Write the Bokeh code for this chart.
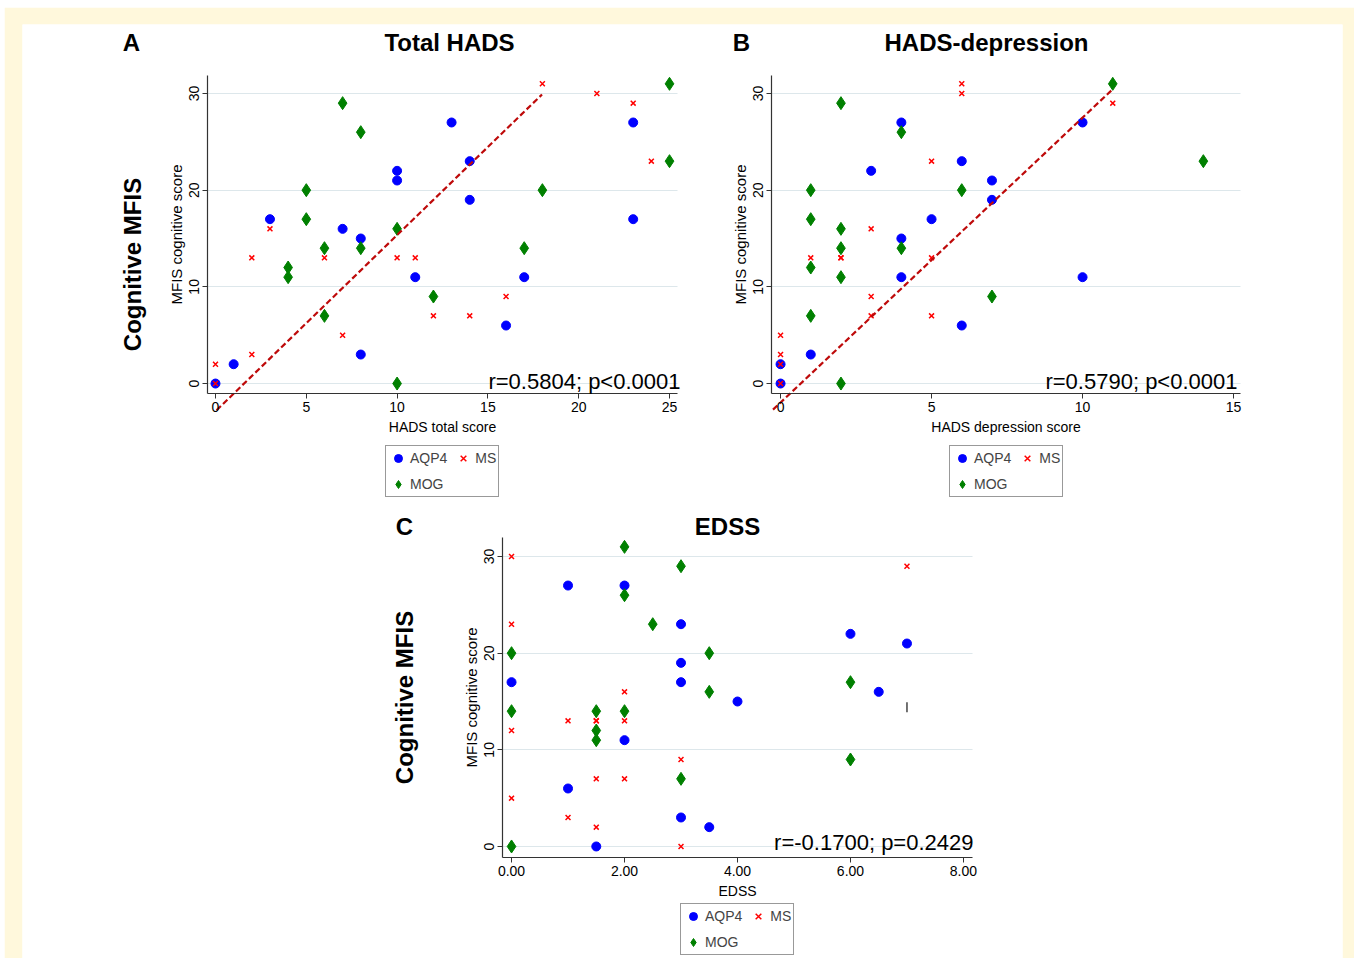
import math
from bokeh.plotting import figure
from bokeh.models import (Range1d, FixedTicker, Label, Legend, LegendItem, Spacer,
                          LinearAxis, Grid)
from bokeh.layouts import column, row
from bokeh.embed import file_html
from bokeh.resources import INLINE

# ---------------- data ----------------
# Panel A: HADS total score vs MFIS cognitive score
A_aqp4_x = [0, 1, 3, 7, 8, 8, 10, 10, 11, 13, 14, 14, 16, 17, 23, 23]
A_aqp4_y = [0, 2, 17, 16, 15, 3, 22, 21, 11, 27, 23, 19, 6, 11, 27, 17]
A_mog_x = [7, 8, 5, 5, 6, 4, 4, 6, 8, 10, 10, 12, 17, 18, 25, 25]
A_mog_y = [29, 26, 20, 17, 14, 12, 11, 7, 14, 16, 0, 9, 14, 20, 31, 23]
A_ms_x = [0, 0, 2, 2, 3, 6, 7, 10, 11, 12, 14, 16, 18, 21, 23, 24]
A_ms_y = [2, 0, 3, 13, 16, 13, 5, 13, 13, 7, 7, 9, 31, 30, 29, 23]
A_fit_x = [0.06, 17.98]
A_fit_y = [-2.76, 29.9]

# Panel B: HADS depression score vs MFIS cognitive score
B_aqp4_x = [0, 0, 1, 3, 4, 4, 4, 5, 6, 6, 7, 7, 10, 10]
B_aqp4_y = [0, 2, 3, 22, 27, 15, 11, 17, 23, 6, 21, 19, 27, 11]
B_mog_x = [2, 4, 1, 1, 2, 2, 4, 1, 2, 1, 2, 6, 7, 11, 14]
B_mog_y = [29, 26, 20, 17, 16, 14, 14, 12, 11, 7, 0, 20, 9, 31, 23]
B_ms_x = [0, 0, 0, 0, 1, 2, 2, 3, 3, 3, 5, 5, 5, 6, 6, 11]
B_ms_y = [5, 3, 2, 0, 13, 13, 13, 16, 9, 7, 23, 13, 7, 31, 30, 29]
B_fit_x = [-0.25, 10.95]
B_fit_y = [-2.7, 30.3]

# Panel C: EDSS vs MFIS cognitive score
C_aqp4_x = [1, 2, 3, 6, 7, 3, 0, 3, 6.5, 4, 2, 1, 3, 3.5, 1.5]
C_aqp4_y = [27, 27, 23, 22, 21, 19, 17, 17, 16, 15, 11, 6, 3, 2, 0]
C_mog_x = [2, 3, 2, 2.5, 0, 3.5, 6, 3.5, 0, 1.5, 2, 1.5, 1.5, 6, 3, 0]
C_mog_y = [31, 29, 26, 23, 20, 20, 17, 16, 14, 14, 14, 12, 11, 9, 7, 0]
C_ms_x = [0, 0, 0, 0, 1, 1, 1.5, 1.5, 1.5, 1.5, 2, 2, 2, 3, 3, 7]
C_ms_y = [30, 23, 12, 5, 13, 3, 13, 13, 7, 2, 16, 13, 7, 9, 0, 29]
C_mark_x = [7.0]
C_mark_y = [14.4]

# ticks / labels
y_ticks = [0, 10, 20, 30]
A_x_ticks = [0, 5, 10, 15, 20, 25]
B_x_ticks = [0, 5, 10, 15]
C_x_ticks = [0, 2, 4, 6, 8]
C_x_tick_labels = ["0.00", "2.00", "4.00", "6.00", "8.00"]

group_names = ["AQP4", "MOG", "MS"]
panel_letters = ["A", "B", "C"]
panel_titles = ["Total HADS", "HADS-depression", "EDSS"]
x_titles = ["HADS total score", "HADS depression score", "EDSS"]
y_title = "MFIS cognitive score"
side_title = "Cognitive MFIS"
stats_text = ["r=0.5804; p<0.0001", "r=0.5790; p<0.0001", "r=-0.1700; p=0.2429"]

FONT = "Liberation Sans"
YELLOW = "#FFF8DC"
BLUE = "#0000FF"
GREEN = "#008000"
RED = "#FF0000"
FIT = "#BE0A0A"
GRID = "#DDE7EB"
AXIS = "#333333"

# ---------------- one drawing surface holding all three panels ----------------
FW, FH = 1320, 934   # size of the white drawing area (frame), pixels

p = figure(width=1350, height=951, x_range=Range1d(0, FW), y_range=Range1d(0, FH),
           x_axis_type=None, y_axis_type=None,
           min_border_left=18, min_border_right=12, min_border_top=17, min_border_bottom=0,
           border_fill_color=YELLOW, background_fill_color="white",
           outline_line_color=None, output_backend="svg", toolbar_location=None)


def frame_range(lo, hi, p0, p1, total):
    """Range over the whole frame so that [lo, hi] lands on pixels [p0, p1]."""
    k = (hi - lo) / (p1 - p0)
    return Range1d(lo - p0 * k, hi + (total - p1) * k)


HAS_CROSS = "cross_bounds" in Grid.properties()


def add_text(txt, x, y, size, style="bold", align="center", angle=0.0):
    p.add_layout(Label(x=x, y=y, x_units="screen", y_units="screen", text=txt,
                       text_font=FONT, text_font_size=size, text_font_style=style,
                       text_align=align, text_baseline="middle", angle=angle,
                       text_color="black"))


def panel(name, xlim, ylim, box, xticks, xlabel, aqp, mog, ms, fit, legend_loc,
          xtick_labels=None, extra=None):
    # box = (left, right, bottom, top) in frame pixels, measured from the frame's bottom-left
    bl, br, bb, bt = box
    xn, yn = name + "_x", name + "_y"
    p.extra_x_ranges[xn] = frame_range(xlim[0], xlim[1], bl, br, FW)
    p.extra_y_ranges[yn] = frame_range(ylim[0], ylim[1], bb, bt, FH)

    # horizontal grid lines
    if HAS_CROSS:
        g = Grid(dimension=1, ticker=FixedTicker(ticks=y_ticks), x_range_name=xn, y_range_name=yn,
                 bounds=ylim, cross_bounds=xlim, grid_line_color=GRID, grid_line_width=1.2)
        p.add_layout(g)
    else:
        p.segment(x0=[xlim[0]] * len(y_ticks), x1=[xlim[1]] * len(y_ticks), y0=y_ticks, y1=y_ticks,
                  x_range_name=xn, y_range_name=yn, line_color=GRID, line_width=1.2,
                  level="underlay")

    xa = LinearAxis(x_range_name=xn, y_range_name=yn, fixed_location=ylim[0], bounds=xlim,
                    ticker=FixedTicker(ticks=xticks), axis_label=xlabel)
    ya = LinearAxis(x_range_name=xn, y_range_name=yn, fixed_location=xlim[0], bounds=ylim,
                    ticker=FixedTicker(ticks=y_ticks), axis_label=y_title)
    if xtick_labels is not None:
        xa.major_label_overrides = {t: l for t, l in zip(xticks, xtick_labels)}
    for ax in (xa, ya):
        ax.axis_line_color = AXIS
        ax.axis_line_width = 1.2
        ax.major_tick_line_color = AXIS
        ax.major_tick_out = 5
        ax.major_tick_in = 0
        ax.minor_tick_out = 0
        ax.minor_tick_in = 0
        ax.major_label_text_font = FONT
        ax.major_label_text_font_size = "14px"
        ax.major_label_text_color = "black"
        ax.major_label_standoff = 3
        ax.axis_label_text_font = FONT
        ax.axis_label_text_font_style = "normal"
        ax.axis_label_text_color = "black"
    xa.axis_label_text_font_size = "14px"
    xa.axis_label_standoff = 4
    ya.axis_label_text_font_size = "15px"
    ya.axis_label_standoff = 2
    ya.major_label_orientation = "vertical"
    p.add_layout(xa, "below")
    p.add_layout(ya, "left")

    kw = dict(x_range_name=xn, y_range_name=yn)
    r_aqp = p.scatter(aqp[0], aqp[1], marker="circle", size=9, fill_color=BLUE, line_color=BLUE, **kw)
    r_mog = p.scatter(mog[0], mog[1], marker="diamond", size=13, fill_color=GREEN, line_color=GREEN, **kw)
    r_ms = p.scatter(ms[0], ms[1], marker="x", size=7, line_color=RED, line_width=1.5, **kw)
    if extra is not None:
        p.scatter(extra[0], extra[1], marker="dash", angle=math.pi / 2, size=10,
                  line_color="#444444", line_width=1.5, **kw)
    if fit is not None:
        p.line(fit[0], fit[1], line_color=FIT, line_width=2.2, line_dash="6 3", **kw)

    legend = Legend(items=[LegendItem(label=group_names[0], renderers=[r_aqp]),
                           LegendItem(label=group_names[1], renderers=[r_mog]),
                           LegendItem(label=group_names[2], renderers=[r_ms])],
                    location=legend_loc, orientation="vertical", ncols=2,
                    glyph_width=20, glyph_height=20, label_height=20,
                    label_standoff=2, spacing=6, padding=2, margin=0,
                    label_text_font=FONT, label_text_font_size="14px",
                    border_line_color="#333333", border_line_width=1,
                    background_fill_color="white", background_fill_alpha=1)
    p.add_layout(legend, "center")


# panel boxes in frame pixels (left, right, bottom, top), frame origin at its bottom-left
panel("A", (-0.44, 25.44), (-1.03, 31.86), (185, 655, 565, 883), A_x_ticks, x_titles[0],
      (A_aqp4_x, A_aqp4_y), (A_mog_x, A_mog_y), (A_ms_x, A_ms_y), (A_fit_x, A_fit_y), (363, 461))
panel("B", (-0.30, 15.23), (-1.03, 31.86), (749, 1218, 565, 883), B_x_ticks, x_titles[1],
      (B_aqp4_x, B_aqp4_y), (B_mog_x, B_mog_y), (B_ms_x, B_ms_y), (B_fit_x, B_fit_y), (927, 461))
panel("C", (-0.16, 8.16), (-1.14, 31.97), (480, 950, 101, 421), C_x_ticks, x_titles[2],
      (C_aqp4_x, C_aqp4_y), (C_mog_x, C_mog_y), (C_ms_x, C_ms_y), None, (658, 3),
      xtick_labels=C_x_tick_labels, extra=(C_mark_x, C_mark_y))

# headings, side titles and statistics (positions are text centres)
add_text(panel_letters[0], 109, 916, "24px")
add_text(panel_titles[0], 427, 916, "24px")
add_text(panel_letters[1], 719, 916, "24px")
add_text(panel_titles[1], 964, 916, "24px")
add_text(panel_letters[2], 382, 432, "24px")
add_text(panel_titles[2], 705, 432, "24px")
add_text(side_title, 110, 694, "24px", angle=math.pi / 2)
add_text(side_title, 382, 261, "24px", angle=math.pi / 2)
add_text(stats_text[0], 658, 577, "22px", style="normal", align="right")
add_text(stats_text[1], 1215, 577, "22px", style="normal", align="right")
add_text(stats_text[2], 951, 116, "22px", style="normal", align="right")

page = column(Spacer(width=1354, height=7), row(Spacer(width=4, height=951), p))

open("out.html", "w").write(file_html(page, INLINE))
